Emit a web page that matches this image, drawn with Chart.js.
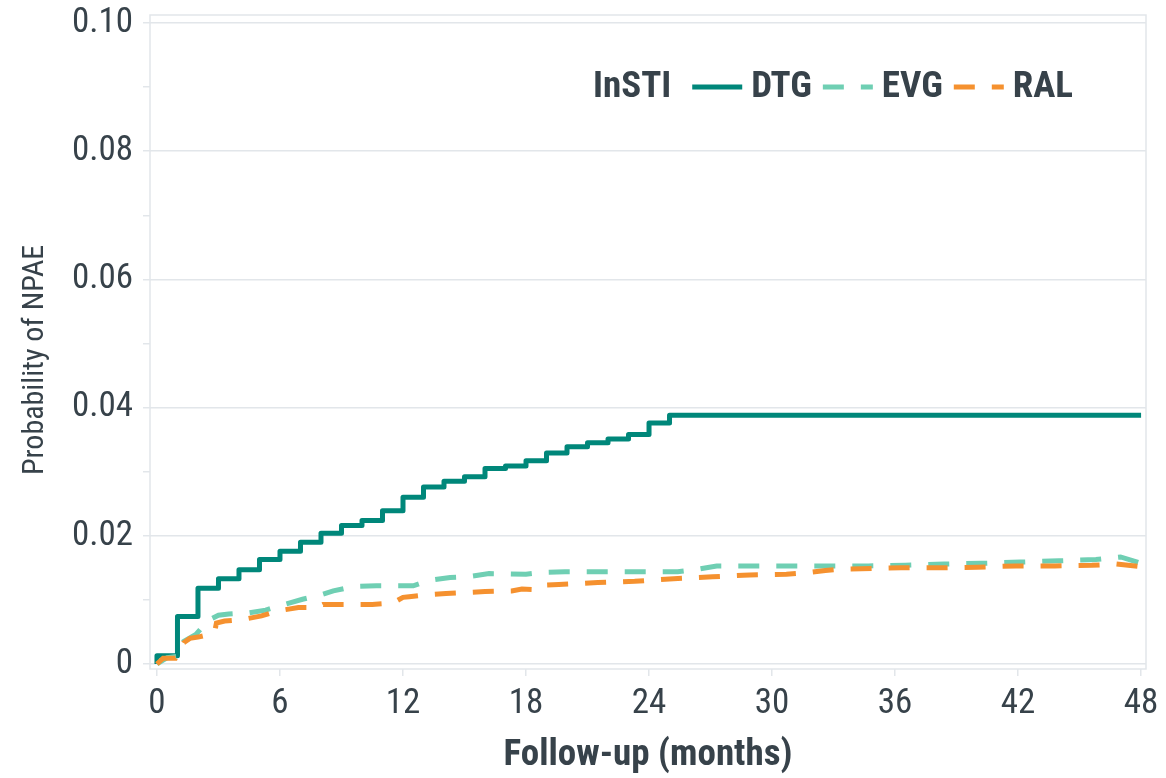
<!DOCTYPE html>
<html>
<head>
<meta charset="utf-8">
<title>Probability of NPAE by InSTI</title>
<script src="https://cdn.jsdelivr.net/npm/chart.js@4.4.1/dist/chart.umd.min.js"></script>
<style>
    html, body { margin: 0; padding: 0; background: #ffffff; }
    #npaeChart { display: block; }
</style>
</head>
<body>
<canvas id="npaeChart" width="1166" height="778"></canvas>
<script>
// cumulative probability (months, probability)
const dtgMonths = [0, 0, 1, 2, 3, 4, 5, 6, 7, 8, 9, 10, 11, 12, 13, 14, 15, 16, 17, 18, 19, 20, 21, 22, 23, 24, 25, 48];
const dtgProb = [0, 0.0013, 0.0074, 0.0118, 0.0133, 0.0147, 0.0163, 0.0176, 0.0190, 0.0204, 0.0216, 0.0224, 0.0239, 0.0260,
    0.0276, 0.0285, 0.0292, 0.0305, 0.0309, 0.0317, 0.0329, 0.0339, 0.0345, 0.0351, 0.0358, 0.0376, 0.0388, 0.0388];

const evgMonths = [0, 0.5, 1.0, 1.3, 1.9, 2.5, 3.0, 3.5, 4.5, 5.3, 6.1, 7.1, 7.9, 8.6, 9.6, 10.7, 12.5, 13.2, 14.3, 15.1,
    16.2, 18.0, 18.8, 19.9, 25.4, 26.2, 27.3, 34.7, 36.5, 38.4, 40.2, 42.1, 44.0, 45.8, 47.0, 48.0];
const evgProb = [0, 0.0010, 0.0012, 0.0035, 0.0046, 0.0068, 0.0076, 0.0078, 0.0080, 0.0084, 0.0092, 0.0101, 0.0107, 0.0114,
    0.0121, 0.0122, 0.0122, 0.0130, 0.0135, 0.0136, 0.0141, 0.0140, 0.0143, 0.0144, 0.0144, 0.0147, 0.0153, 0.0153, 0.0154,
    0.0156, 0.0157, 0.0159, 0.0161, 0.0163, 0.0167, 0.0157];

const ralMonths = [0, 0.3, 0.9, 1.3, 1.6, 2.0, 2.8, 2.9, 3.3, 4.1, 5.1, 5.9, 6.9, 7.8, 8.1, 10.5, 11.5, 12.0, 12.3, 13.1,
    14.1, 16.0, 17.3, 17.8, 18.6, 18.9, 19.6, 21.5, 23.3, 25.2, 27.1, 28.9, 30.7, 31.6, 32.6, 33.4, 36.3, 38.2, 40.0, 41.9,
    43.8, 45.6, 46.8, 48.0];
const ralProb = [0, 0.0009, 0.0009, 0.0033, 0.0040, 0.0042, 0.0048, 0.0064, 0.0067, 0.0069, 0.0075, 0.0083, 0.0088, 0.0088,
    0.0093, 0.0093, 0.0095, 0.0104, 0.0105, 0.0108, 0.0110, 0.0113, 0.0114, 0.0117, 0.0116, 0.0123, 0.0124, 0.0127, 0.0129,
    0.0133, 0.0136, 0.0139, 0.0140, 0.0142, 0.0146, 0.0148, 0.0150, 0.0150, 0.0151, 0.0153, 0.0153, 0.0154, 0.0156, 0.0152];

const xTickValues = [0, 6, 12, 18, 24, 30, 36, 42, 48];
const yTickValues = [0, 0.01, 0.02, 0.03, 0.04, 0.05, 0.06, 0.07, 0.08, 0.09, 0.10];
const yTickLabels = ["0", "", "0.02", "", "0.04", "", "0.06", "", "0.08", "", "0.10"];

const legendTitle = "InSTI";
const xTitle = "Follow-up (months)";
const yTitle = "Probability of NPAE";

const colors = {
    dtg: "#00877a",
    evg: "#6fcfb3",
    ral: "#f5912f",
    text: "#37424a",
    grid: "#e2e6ea",
};

// the figure uses a condensed sans; take the first one that is installed
function pickNarrowFont() {
    const candidates = [
        ["Roboto Condensed", 1],
        ["Liberation Sans Narrow", 1.05],
        ["Arial Narrow", 1.05],
        ["DejaVu Sans Condensed", 0.86],
    ];
    const ctx = document.createElement("canvas").getContext("2d");
    const sample = "0.10 Follow-up InSTI";
    ctx.font = "40px monospace";
    const base = ctx.measureText(sample).width;
    for (const [name, scale] of candidates) {
        ctx.font = `40px '${name}', monospace`;
        if (Math.abs(ctx.measureText(sample).width - base) > 0.5) {
            return { family: `'${name}', 'Liberation Sans', sans-serif`, scale };
        }
    }
    return { family: "'Liberation Sans', Arial, sans-serif", scale: 0.88 };
}

const narrow = pickNarrowFont();
const fontSize = (px) => Math.round(px * narrow.scale);
const tickFont = { family: narrow.family, size: fontSize(35) };
const dashPattern = [21, 17];

function toPoints(months, probs) {
    return months.map((m, i) => ({ x: m, y: probs[i] }));
}

// panel frame around the plotting area (top and right sides too)
const panelFrame = {
    id: "panelFrame",
    beforeDatasetsDraw(chart) {
        const { ctx, chartArea } = chart;
        ctx.save();
        ctx.strokeStyle = colors.grid;
        ctx.lineWidth = 1.5;
        ctx.strokeRect(chartArea.left, chartArea.top, chartArea.right - chartArea.left, chartArea.bottom - chartArea.top);
        ctx.restore();
    },
};

// y title sits a little below the panel middle in the figure
const yAxisTitle = {
    id: "yAxisTitle",
    afterDraw(chart, args, opts) {
        const { ctx } = chart;
        ctx.save();
        ctx.font = `${fontSize(opts.fontSize)}px ${narrow.family}`;
        ctx.fillStyle = colors.text;
        ctx.textAlign = "center";
        ctx.textBaseline = "middle";
        ctx.translate(opts.x, opts.y);
        ctx.rotate(-Math.PI / 2);
        ctx.fillText(yTitle, 0, 0);
        ctx.restore();
    },
};

// one-line legend: bold title followed by line samples
const inlineLegend = {
    id: "inlineLegend",
    afterDraw(chart, args, opts) {
        const { ctx } = chart;
        ctx.save();
        ctx.font = `bold ${fontSize(opts.fontSize)}px ${narrow.family}`;
        ctx.fillStyle = colors.text;
        ctx.textBaseline = "middle";
        ctx.textAlign = "left";
        let x = opts.x;
        const y = opts.y;
        ctx.fillText(legendTitle, x, y + 1);
        x += ctx.measureText(legendTitle).width + opts.titleGap;
        chart.data.datasets.forEach((ds) => {
            ctx.strokeStyle = ds.borderColor;
            ctx.lineWidth = ds.borderWidth;
            ctx.lineCap = "butt";
            ctx.setLineDash(ds.borderDash || []);
            ctx.beginPath();
            ctx.moveTo(x, y);
            ctx.lineTo(x + opts.sampleLength, y);
            ctx.stroke();
            ctx.setLineDash([]);
            x += opts.sampleLength + opts.sampleGap;
            ctx.fillText(ds.label, x, y + 1);
            x += ctx.measureText(ds.label).width + opts.itemGap;
        });
        ctx.restore();
    },
};

new Chart(document.getElementById("npaeChart"), {
    type: "line",
    data: {
        datasets: [
            {
                label: "DTG",
                data: toPoints(dtgMonths, dtgProb),
                borderColor: colors.dtg,
                borderWidth: 5,
                stepped: "before",
                borderJoinStyle: "round",
                pointRadius: 0,
                order: 3,
            },
            {
                label: "EVG",
                data: toPoints(evgMonths, evgProb),
                borderColor: colors.evg,
                borderWidth: 5,
                borderDash: dashPattern,
                borderCapStyle: "butt",
                tension: 0,
                pointRadius: 0,
                order: 2,
            },
            {
                label: "RAL",
                data: toPoints(ralMonths, ralProb),
                borderColor: colors.ral,
                borderWidth: 5,
                borderDash: dashPattern,
                borderCapStyle: "butt",
                tension: 0,
                pointRadius: 0,
                order: 1,
            },
        ],
    },
    options: {
        responsive: false,
        animation: false,
        layout: { padding: { top: 15, right: 20, left: 0, bottom: 0 } },
        plugins: {
            legend: { display: false },
            tooltip: { enabled: false },
            inlineLegend: { x: 593, y: 87, fontSize: 37, titleGap: 21, sampleLength: 50, sampleGap: 9, itemGap: 11 },
            yAxisTitle: { x: 35, y: 360, fontSize: 30 },
        },
        scales: {
            x: {
                type: "linear",
                min: -0.34,
                max: 48.24,
                afterBuildTicks: (scale) => { scale.ticks = xTickValues.map((v) => ({ value: v })); },
                afterFit: (scale) => { scale.height = 109; },
                grid: { drawOnChartArea: false, color: colors.grid, tickLength: 7, lineWidth: 1.5 },
                border: { display: false },
                ticks: {
                    color: colors.text,
                    font: tickFont,
                    padding: 7,
                    maxRotation: 0,
                    autoSkip: false,
                    callback: (value) => String(value),
                },
                title: {
                    display: true,
                    text: xTitle,
                    color: colors.text,
                    font: { family: narrow.family, size: fontSize(37), weight: "bold" },
                    padding: { top: 0, bottom: 0 },
                },
            },
            y: {
                type: "linear",
                min: -0.00078,
                max: 0.10125,
                afterBuildTicks: (scale) => { scale.ticks = yTickValues.map((v) => ({ value: v })); },
                afterFit: (scale) => {
                    scale.width = 150;
                    scale.paddingTop = 0;
                    scale.paddingBottom = 0;
                },
                grid: {
                    color: (ctx) => (yTickLabels[ctx.index] ? colors.grid : "rgba(0,0,0,0)"),
                    tickColor: colors.grid,
                    tickLength: 7,
                    lineWidth: 1.5,
                },
                border: { display: false },
                ticks: {
                    color: colors.text,
                    font: tickFont,
                    padding: 10,
                    autoSkip: false,
                    callback: (value, index) => yTickLabels[index],
                },
            },
        },
    },
    plugins: [panelFrame, yAxisTitle, inlineLegend],
});
</script>
</body>
</html>
